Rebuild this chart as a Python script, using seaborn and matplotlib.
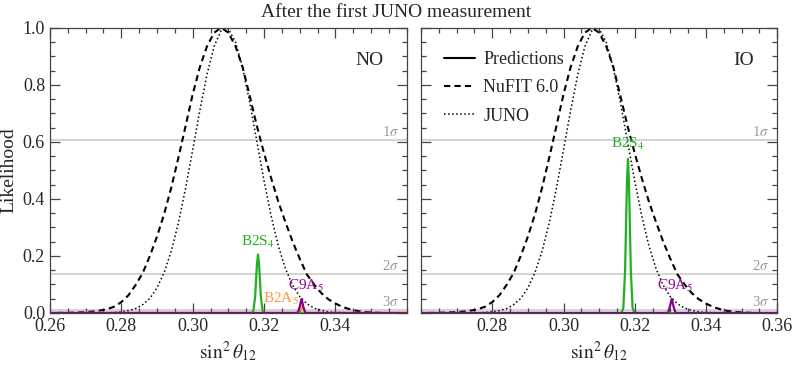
"""
sin^2 theta_12 likelihood after the first JUNO measurement (NO / IO)
"""
import matplotlib
matplotlib.use('Agg')
import matplotlib.pyplot as plt
import seaborn as sns
from matplotlib.lines import Line2D
from matplotlib.ticker import MultipleLocator

# ============================
# data
# ============================
x_nufit = [0.262, 0.266, 0.270, 0.273, 0.276, 0.278, 0.280, 0.282, 0.284, 0.286,
           0.288, 0.290, 0.292, 0.294, 0.296, 0.298, 0.300, 0.302, 0.304, 0.306,
           0.308, 0.310, 0.312, 0.314, 0.316, 0.318, 0.320, 0.322, 0.324, 0.326,
           0.328, 0.330, 0.332, 0.334, 0.336, 0.338, 0.340, 0.342, 0.344, 0.346,
           0.348, 0.350, 0.353]
lh_nufit = [0.000, 0.001, 0.003, 0.006, 0.013, 0.022, 0.038, 0.062, 0.098, 0.140,
            0.200, 0.268, 0.347, 0.440, 0.545, 0.655, 0.767, 0.862, 0.935, 0.983,
            1.000, 0.983, 0.935, 0.862, 0.760, 0.655, 0.560, 0.472, 0.390, 0.318,
            0.250, 0.190, 0.135, 0.100, 0.070, 0.048, 0.033, 0.021, 0.013, 0.007,
            0.004, 0.002, 0.000]

x_juno = [0.276, 0.280, 0.282, 0.284, 0.286, 0.288, 0.290, 0.292, 0.294, 0.296,
          0.298, 0.300, 0.302, 0.304, 0.306, 0.308, 0.3092, 0.310, 0.312, 0.314,
          0.316, 0.318, 0.320, 0.322, 0.324, 0.326, 0.328, 0.330, 0.332, 0.334,
          0.336, 0.338, 0.340, 0.345]
lh_juno = [0.000, 0.004, 0.008, 0.015, 0.029, 0.051, 0.088, 0.142, 0.217, 0.316,
           0.437, 0.572, 0.710, 0.836, 0.935, 0.991, 1.000, 0.996, 0.950, 0.859,
           0.737, 0.600, 0.463, 0.339, 0.235, 0.155, 0.097, 0.057, 0.032, 0.017,
           0.009, 0.004, 0.002, 0.000]

# predictions, normal ordering
b2s4_no_x = [0.260, 0.3165, 0.3170, 0.3175, 0.3180, 0.3183, 0.3186, 0.3191, 0.3196, 0.3201, 0.360]
b2s4_no_y = [0.0, 0.0, 0.007, 0.057, 0.171, 0.205, 0.171, 0.057, 0.007, 0.0, 0.0]
b2a5_no_x = [0.260, 0.3290, 0.3295, 0.3300, 0.3305, 0.3310, 0.3315, 0.3320, 0.360]
b2a5_no_y = [0.0, 0.0, 0.001, 0.010, 0.022, 0.010, 0.001, 0.0, 0.0]
c9a5_no_x = [0.260, 0.3290, 0.3295, 0.3300, 0.3305, 0.3310, 0.3315, 0.3320, 0.360]
c9a5_no_y = [0.0, 0.0, 0.002, 0.022, 0.049, 0.022, 0.002, 0.0, 0.0]

# predictions, inverted ordering
b2s4_io_x = [0.260, 0.3163, 0.3168, 0.3173, 0.3178, 0.3181, 0.3184, 0.3189, 0.3194, 0.3199, 0.360]
b2s4_io_y = [0.0, 0.0, 0.018, 0.150, 0.451, 0.540, 0.451, 0.150, 0.018, 0.0, 0.0]
c9a5_io_x = [0.260, 0.3289, 0.3294, 0.3299, 0.3304, 0.3309, 0.3314, 0.3319, 0.360]
c9a5_io_y = [0.0, 0.0, 0.002, 0.023, 0.050, 0.023, 0.002, 0.0, 0.0]

sigma_levels = [0.6065, 0.1353, 0.0111]
sigma_labels = ['1$\\sigma$', '2$\\sigma$', '3$\\sigma$']

GREEN = '#22b022'
ORANGE = '#ff9a3c'
PURPLE = '#86008c'

sns.set_theme(style='ticks')
plt.rcParams['font.family'] = ['Liberation Serif', 'DejaVu Serif']
plt.rcParams['mathtext.fontset'] = 'stix'

fig = plt.figure(figsize=(7.93, 3.66), dpi=100)
ax_no = fig.add_axes([0.063, 0.145, 0.450, 0.779])
ax_io = fig.add_axes([0.531, 0.145, 0.449, 0.779])


def draw_common(ax):
    for lev, lab in zip(sigma_levels, sigma_labels):
        ax.axhline(lev, color='#d0d0d0', lw=1.3, zorder=0)
        ax.text(0.3578, lev + 0.003, lab, color='#9a9a9a', fontsize=10.5,
                ha='right', va='bottom', zorder=1)
    sns.lineplot(x=x_nufit, y=lh_nufit, ax=ax, color='black', lw=1.5,
                 linestyle=(0, (3, 2)), errorbar=None)
    sns.lineplot(x=x_juno, y=lh_juno, ax=ax, color='black', lw=1.1,
                 linestyle=':', errorbar=None)


def style_axes(ax, xticks, show_y):
    ax.set_xlim(0.26, 0.36)
    ax.set_ylim(0, 1.0)
    ax.set_xticks(xticks)
    ax.set_xticklabels([f'{t:.2f}' for t in xticks])
    ax.set_yticks([0.0, 0.2, 0.4, 0.6, 0.8, 1.0])
    ax.xaxis.set_minor_locator(MultipleLocator(0.005))
    ax.yaxis.set_minor_locator(MultipleLocator(0.05))
    ax.tick_params(which='both', direction='in', top=True, right=True,
                   color='#444444', width=0.9, labelsize=13)
    ax.tick_params(which='major', length=7)
    ax.tick_params(which='minor', length=3.5)
    if show_y:
        ax.set_yticklabels(['0.0', '0.2', '0.4', '0.6', '0.8', '1.0'])
        ax.set_ylabel('Likelihood', fontsize=14, labelpad=4)
    else:
        ax.set_yticklabels([])
        ax.set_ylabel('')
    ax.set_xlabel('$\\sin^2\\theta_{12}$', fontsize=14, labelpad=3)
    for sp in ax.spines.values():
        sp.set_color('#444444')
        sp.set_linewidth(0.9)


# ============================
# NO
# ============================
draw_common(ax_no)
sns.lineplot(x=b2s4_no_x, y=b2s4_no_y, ax=ax_no, color=GREEN, lw=1.6, errorbar=None)
sns.lineplot(x=b2a5_no_x, y=b2a5_no_y, ax=ax_no, color=ORANGE, lw=1.6, errorbar=None)
sns.lineplot(x=c9a5_no_x, y=c9a5_no_y, ax=ax_no, color=PURPLE, lw=1.6, errorbar=None)
ax_no.text(0.3183, 0.222, 'B2S$_4$', color=GREEN, fontsize=11, ha='center', va='bottom', zorder=5)
ax_no.text(0.3297, 0.022, 'B2A$_5$', color=ORANGE, fontsize=11, ha='right', va='bottom', zorder=5)
ax_no.text(0.3317, 0.066, 'C9A$_5$', color=PURPLE, fontsize=11, ha='center', va='bottom', zorder=5)
ax_no.text(0.935, 0.885, 'NO', transform=ax_no.transAxes, fontsize=14, ha='right', va='center')
style_axes(ax_no, [0.26, 0.28, 0.30, 0.32, 0.34], True)

# ============================
# IO
# ============================
draw_common(ax_io)
sns.lineplot(x=b2s4_io_x, y=b2s4_io_y, ax=ax_io, color=GREEN, lw=1.6, errorbar=None)
sns.lineplot(x=c9a5_io_x, y=c9a5_io_y, ax=ax_io, color=PURPLE, lw=1.6, errorbar=None)
ax_io.text(0.3180, 0.565, 'B2S$_4$', color=GREEN, fontsize=11, ha='center', va='bottom', zorder=5)
ax_io.text(0.3313, 0.066, 'C9A$_5$', color=PURPLE, fontsize=11, ha='center', va='bottom', zorder=5)
ax_io.text(0.935, 0.885, 'IO', transform=ax_io.transAxes, fontsize=14, ha='right', va='center')
style_axes(ax_io, [0.28, 0.30, 0.32, 0.34, 0.36], False)

handles = [Line2D([], [], color='black', lw=1.5),
           Line2D([], [], color='black', lw=1.5, linestyle=(0, (3, 2))),
           Line2D([], [], color='black', lw=1.1, linestyle=':')]
ax_io.legend(handles, ['Predictions', 'NuFIT 6.0', 'JUNO'], loc='upper left',
             frameon=False, fontsize=13, handlelength=1.7, handletextpad=0.45,
             labelspacing=0.62, bbox_to_anchor=(0.02, 0.975))

fig.suptitle('After the first JUNO measurement', fontsize=14, y=0.99)

plt.savefig('out.png', dpi=100)
plt.close()
